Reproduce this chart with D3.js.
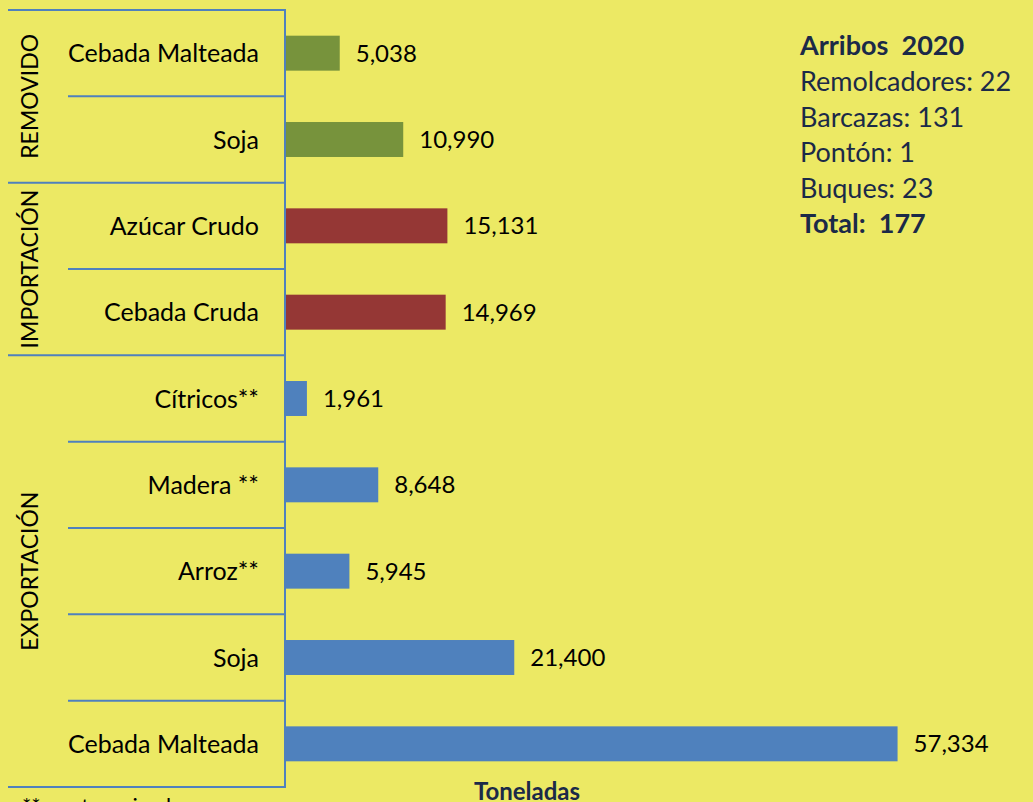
<!DOCTYPE html>
<html>
<head>
<meta charset="utf-8">
<script src="https://cdn.jsdelivr.net/npm/d3@7"></script>
<style>
  body { margin: 0; background: #ece964; }
  svg { display: block; font-family: Lato, "Open Sans", sans-serif; }
</style>
</head>
<body>
<svg id="chart"></svg>
<script>
// datos
const categorias = ["Cebada Malteada", "Soja", "Azúcar Crudo", "Cebada Cruda", "Cítricos**", "Madera **", "Arroz**", "Soja", "Cebada Malteada"];
const grupos = ["REMOVIDO", "REMOVIDO", "IMPORTACIÓN", "IMPORTACIÓN", "EXPORTACIÓN", "EXPORTACIÓN", "EXPORTACIÓN", "EXPORTACIÓN", "EXPORTACIÓN"];
const toneladas = [5038, 10990, 15131, 14969, 1961, 8648, 5945, 21400, 57334];
const ejeX = [0, 60000];
const arribos = ["Remolcadores: 22", "Barcazas: 131", "Pontón: 1", "Buques: 23"];

const colorGrupo = { "REMOVIDO": "#77933c", "IMPORTACIÓN": "#953735", "EXPORTACIÓN": "#4f81bd" };
const lineColor = "#4f81bd";
const textDark = "#1b2a48";

const W = 1033, H = 802;
const svg = d3.select("#chart").attr("width", W).attr("height", H);

const data = toneladas.map((v, i) => ({ i, cat: categorias[i], grupo: grupos[i], v }));

const x = d3.scaleLinear().domain(ejeX).range([286, 926]);
const y = d3.scaleBand()
  .domain(d3.range(data.length))
  .range([10, 787])
  .paddingInner(0.595)
  .paddingOuter(0.2975);

const step = y.step();
const rowTop = i => 10 + i * step;

// separadores
const lines = svg.append("g").attr("stroke", lineColor).attr("stroke-width", 2);
for (let i = 0; i <= data.length; i++) {
  const nuevoGrupo = i === 0 || i === data.length || grupos[i] !== grupos[i - 1];
  lines.append("line")
    .attr("x1", nuevoGrupo ? 8 : 68).attr("x2", 285)
    .attr("y1", rowTop(i)).attr("y2", rowTop(i));
}
lines.append("line")
  .attr("x1", 285).attr("x2", 285)
  .attr("y1", 9).attr("y2", 788);

// barras
svg.append("g").selectAll("rect")
  .data(data)
  .join("rect")
  .attr("x", x(0))
  .attr("y", d => y(d.i))
  .attr("width", d => x(d.v) - x(0))
  .attr("height", y.bandwidth())
  .attr("fill", d => colorGrupo[d.grupo]);

// valores
svg.append("g").selectAll("text")
  .data(data)
  .join("text")
  .attr("x", d => x(d.v) + 16)
  .attr("y", d => y(d.i) + y.bandwidth() / 2)
  .attr("dy", "0.36em")
  .style("font-size", "24px")
  .style("fill", "#000")
  .text(d => d3.format(",")(d.v));

// categorias
svg.append("g").selectAll("text")
  .data(data)
  .join("text")
  .attr("x", 259)
  .attr("y", d => y(d.i) + y.bandwidth() / 2)
  .attr("dy", "0.36em")
  .attr("text-anchor", "end")
  .style("font-size", "25px")
  .style("fill", "#000")
  .text(d => d.cat);

// grupos (rotados)
const bloques = d3.groups(data, d => d.grupo).map(([g, v]) => ({
  g, y0: rowTop(v[0].i), y1: rowTop(v[v.length - 1].i + 1)
}));
svg.append("g").selectAll("text")
  .data(bloques)
  .join("text")
  .attr("transform", d => `translate(30,${(d.y0 + d.y1) / 2}) rotate(-90)`)
  .attr("text-anchor", "middle")
  .attr("dy", "0.36em")
  .style("font-size", "23px")
  .style("fill", "#000")
  .text(d => d.g);

// titulo eje
svg.append("text")
  .attr("x", 527).attr("y", 800)
  .attr("text-anchor", "middle")
  .style("font-size", "24px")
  .style("font-weight", "bold")
  .style("fill", textDark)
  .text("Toneladas");

// nota al pie (cortada)
svg.append("text")
  .attr("x", 22).attr("y", 814)
  .style("font-size", "22px")
  .style("fill", "#000")
  .text("** contenerizado");

// recuadro arribos
const info = svg.append("g").attr("transform", "translate(800,0)").style("fill", textDark).style("font-size", "27px");
info.append("text").attr("y", 55).style("font-weight", "bold").attr("xml:space", "preserve").text("Arribos  2020");
arribos.forEach((t, i) => {
  info.append("text").attr("y", 91 + i * 35.5).text(t);
});
info.append("text").attr("y", 233).style("font-weight", "bold").attr("xml:space", "preserve").text("Total:  177");
</script>
</body>
</html>
